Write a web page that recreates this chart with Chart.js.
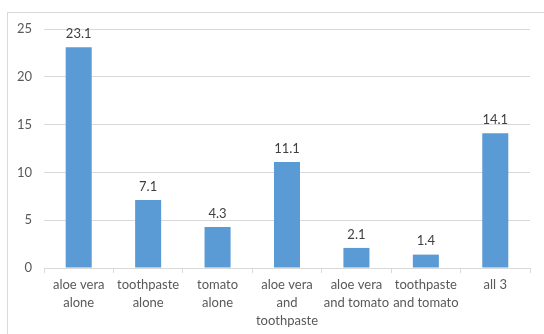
<!DOCTYPE html>
<html>
<head>
<meta charset="utf-8">
<script src="https://cdn.jsdelivr.net/npm/chart.js@4"></script>
<style>
  html, body { margin: 0; padding: 0; background: #fff; }
  #wrap { position: relative; width: 544px; height: 334px; }
</style>
</head>
<body>
<div id="wrap"><canvas id="barChart" width="544" height="334"></canvas></div>
<script>
// datos del gráfico
const categories = [
    ['aloe vera', 'alone'],
    ['toothpaste', 'alone'],
    ['tomato', 'alone'],
    ['aloe vera', 'and', 'toothpaste'],
    ['aloe vera', 'and tomato'],
    ['toothpaste', 'and tomato'],
    ['all 3']
];
const values = [23.1, 7.1, 4.3, 11.1, 2.1, 1.4, 14.1];
const yTicks = [0, 5, 10, 15, 20, 25];

const FONT = 'Lato, "Open Sans", sans-serif';

// marco exterior del gráfico
const framePlugin = {
    id: 'frame',
    beforeDraw(chart) {
        const ctx = chart.ctx;
        ctx.save();
        ctx.strokeStyle = '#d9d9d9';
        ctx.lineWidth = 1;
        ctx.strokeRect(7.5, 12.5, 700, 500);
        ctx.restore();
    }
};

// etiquetas de valor encima de cada barra
const valueLabels = {
    id: 'valueLabels',
    afterDatasetsDraw(chart) {
        const ctx = chart.ctx;
        const meta = chart.getDatasetMeta(0);
        ctx.save();
        ctx.font = '13px ' + FONT;
        ctx.fillStyle = '#404040';
        ctx.textAlign = 'center';
        ctx.textBaseline = 'bottom';
        meta.data.forEach((bar, i) => {
            ctx.fillText(values[i].toFixed(1), bar.x, bar.y - 7);
        });
        ctx.restore();
    }
};

const ctx = document.getElementById('barChart').getContext('2d');
const chart = new Chart(ctx, {
    type: 'bar',
    data: {
        labels: categories,
        datasets: [{
            data: values,
            backgroundColor: '#5b9bd5',
            borderWidth: 0,
            barPercentage: 0.375,
            categoryPercentage: 1
        }]
    },
    options: {
        responsive: false,
        animation: false,
        layout: { padding: { left: 0, right: 14, top: 29, bottom: 0 } },
        plugins: {
            legend: { display: false },
            tooltip: { enabled: false }
        },
        scales: {
            x: {
                grid: {
                    drawOnChartArea: false,
                    drawTicks: true,
                    tickLength: 5,
                    color: '#d9d9d9'
                },
                border: { display: true, color: '#d9d9d9' },
                ticks: {
                    color: '#595959',
                    font: { family: FONT, size: 13, lineHeight: 1.38 },
                    padding: 3,
                    maxRotation: 0,
                    autoSkip: false
                },
                afterFit(scale) { scale.height = 66; }
            },
            y: {
                min: 0,
                max: 25,
                afterBuildTicks(scale) {
                    scale.ticks = yTicks.map(v => ({ value: v }));
                },
                grid: {
                    color: '#d9d9d9',
                    drawTicks: false
                },
                border: { display: false },
                ticks: {
                    color: '#595959',
                    font: { family: FONT, size: 13 },
                    padding: 12
                },
                afterFit(scale) { scale.width = 44; }
            }
        }
    },
    plugins: [framePlugin, valueLabels]
});
</script>
</body>
</html>
